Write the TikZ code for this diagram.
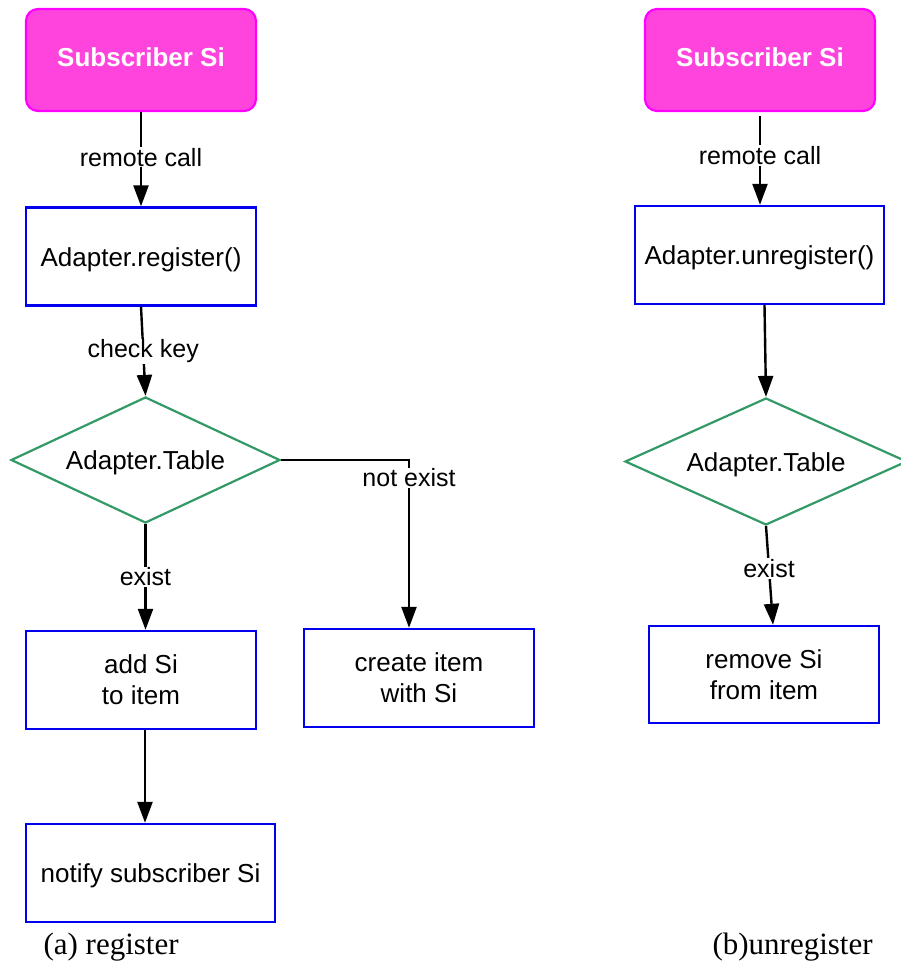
\documentclass[tikz,border=0pt]{standalone}
\usepackage{fontspec}
\setmainfont{Liberation Sans}
\newfontfamily\captionfont{Liberation Serif}
\usetikzlibrary{shapes.geometric,arrows.meta}
\definecolor{subfill}{RGB}{255,68,221}
\definecolor{subdraw}{RGB}{255,0,255}
\definecolor{boxblue}{RGB}{0,0,238}
\definecolor{tablegreen}{RGB}{51,153,102}
\tikzset{
  x=1pt, y=-1pt,
  every node/.style={font=\fontsize{25}{31}\selectfont},
  subscriber/.style={rectangle, rounded corners=12pt, draw=subdraw, fill=subfill,
    line width=2.2pt, minimum width=230pt, minimum height=102pt, inner sep=0pt,
    text=white, font=\fontsize{26}{31}\selectfont\bfseries,
    text height=19pt, text depth=6pt},
  stepbox/.style={rectangle, draw=boxblue, line width=2.4pt, inner sep=0pt,
    minimum width=230pt, minimum height=98pt, align=center,
    font=\fontsize{26}{31}\selectfont},
  oneline/.style={text height=19pt, text depth=0pt},
  tablebox/.style={diamond, draw=tablegreen, line width=2.2pt, inner sep=0pt,
    font=\fontsize{26}{31}\selectfont, text height=19pt, text depth=0pt},
  flow/.style={line width=2.4pt, -{Triangle[length=21pt,width=15pt]}},
  edgelabel/.style={fill=white, inner sep=1pt},
  caption/.style={font=\fontsize{31}{36}\selectfont\captionfont, anchor=west}
}
\begin{document}
\begin{tikzpicture}
\useasboundingbox (0,0) rectangle (901,966);
\clip (0,0) rectangle (901,966);

% (a) register
\node[subscriber] (sl) at (141,60) {Subscriber Si};
\node[stepbox, oneline] (reg) at (141,256.5) {Adapter.register()};
\node[tablebox, minimum width=269pt, minimum height=126pt, aspect=2.13] (tabl) at (145.5,460) {Adapter.Table};
\node[stepbox] (add) at (141,680) {add Si\\to item};
\node[stepbox] (create) at (419,678) {create item\\with Si};
\node[stepbox, oneline, minimum width=249pt] (notify) at (150.5,873) {notify subscriber Si};
\coordinate (ne) at (409,460);
\node[caption] (capa) at (40,947) {(a) register};

\draw[flow] (sl.south) -- node[edgelabel, pos=0.48] {remote call} (reg.north);
\draw[flow] (reg.south) -- node[edgelabel, pos=0.5] {check key} (tabl.north);
\draw[flow] (tabl.south) -- node[edgelabel, pos=0.5] {exist} (tabl.south |- add.north);
\draw[flow] (tabl.east) -- (ne) -- node[edgelabel, pos=0.107] {not exist} (ne |- create.north);
\draw[flow] ([xshift=4pt]add.south) -- ([xshift=4pt]add.south |- notify.north);

% (b) unregister
\node[subscriber] (sr) at (760,60) {Subscriber Si};
\node[stepbox, oneline, minimum width=249pt] (unreg) at (759.5,255) {Adapter.unregister()};
\node[tablebox, minimum width=282pt, minimum height=127pt, aspect=2.22] (tabr) at (766,461.5) {Adapter.Table};
\node[stepbox, minimum height=97pt] (remove) at (764,674.5) {remove Si\\from item};
\node[caption] (capb) at (709,947) {(b)unregister};

\draw[flow, shorten <=4pt] (sr.south) -- node[edgelabel, pos=0.47] {remote call} (sr.south |- unreg.north);
\draw[flow] ([xshift=5pt]unreg.south) -- (tabr.north);
\draw[flow] (tabr.south) -- node[edgelabel, pos=0.43] {exist} ([xshift=9pt]remove.north);
\end{tikzpicture}
\end{document}
